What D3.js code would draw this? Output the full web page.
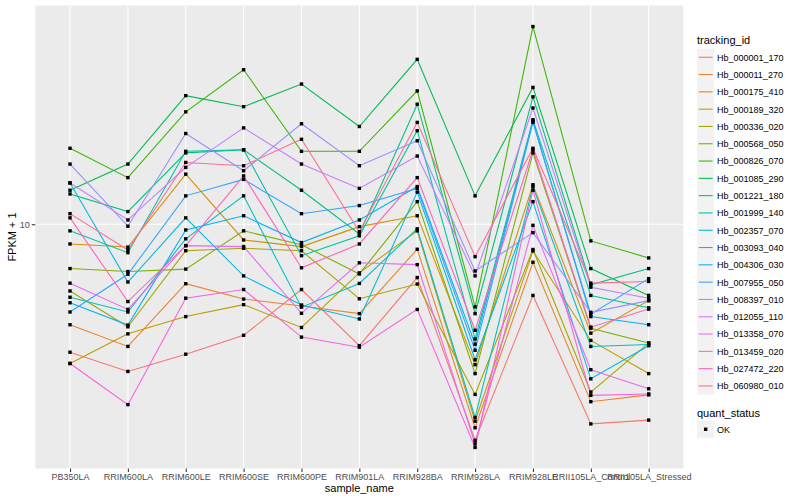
<!DOCTYPE html>
<html>
<head>
<meta charset="utf-8">
<script src="https://cdn.jsdelivr.net/npm/d3@7"></script>
<style>
  body { margin: 0; background: #fff; }
  svg { display: block; font-family: "Liberation Sans", Arial, sans-serif; }
</style>
</head>
<body>
<div id="chart"></div>
<script>
// categorias do eixo x
const samples = ['PB350LA', 'RRIM600LA', 'RRIM600LE', 'RRIM600SE', 'RRIM600PE', 'RRIM901LA',
  'RRIM928BA', 'RRIM928LA', 'RRIM928LE', 'RRII105LA_Control', 'RRII105LA_Stressed'];

const trackingIds = ['Hb_000001_170', 'Hb_000011_270', 'Hb_000175_410', 'Hb_000189_320', 'Hb_000336_020',
  'Hb_000568_050', 'Hb_000826_070', 'Hb_001085_290', 'Hb_001221_180', 'Hb_001999_140', 'Hb_002357_070',
  'Hb_003093_040', 'Hb_004306_030', 'Hb_007955_050', 'Hb_008397_010', 'Hb_012055_110', 'Hb_013358_070',
  'Hb_013459_020', 'Hb_027472_220', 'Hb_060980_010'];

// FPKM + 1, uma serie por tracking_id (ordem = samples)
const hb_000001_170 = [5.54, 5.07, 5.49, 5.99, 7.40, 5.71, 7.82, 3.69, 7.20, 3.98, 4.05];
const hb_000011_270 = [6.29, 5.69, 7.60, 7.08, 6.86, 6.62, 8.91, 3.91, 8.39, 4.41, 4.55];
const hb_000175_410 = [9.13, 9.00, 12.6, 9.30, 9.02, 9.89, 10.4, 5.23, 12.0, 6.05, 7.03];
const hb_000189_320 = [5.26, 6.03, 6.53, 6.90, 6.21, 7.99, 9.70, 4.03, 8.84, 5.85, 5.02];
const hb_000336_020 = [7.35, 6.23, 8.85, 8.95, 8.85, 7.09, 7.59, 4.56, 8.90, 4.61, 5.78];
const hb_000568_050 = [8.15, 8.04, 8.13, 9.70, 9.10, 7.95, 11.1, 5.02, 13.9, 6.19, 5.78];
const hb_000826_070 = [14.2, 12.4, 16.8, 20.4, 14.0, 14.0, 18.5, 6.83, 24.9, 9.26, 8.56];
const hb_001085_290 = [11.7, 13.2, 18.1, 17.2, 19.1, 15.7, 21.4, 11.4, 18.8, 8.15, 7.20];
const hb_001221_180 = [11.5, 10.6, 13.9, 14.1, 11.7, 9.56, 17.4, 6.62, 18.0, 7.56, 8.15];
const hb_001999_140 = [9.70, 8.77, 14.0, 14.1, 8.65, 9.48, 15.4, 5.89, 16.2, 7.20, 6.80];
const hb_002357_070 = [7.14, 6.67, 9.35, 11.4, 6.82, 7.61, 9.79, 4.10, 11.9, 5.69, 5.74];
const hb_003093_040 = [12.1, 7.66, 10.3, 7.88, 6.89, 6.46, 11.6, 5.35, 11.1, 4.90, 5.71];
const hb_004306_030 = [6.96, 6.28, 9.74, 10.4, 9.19, 10.2, 11.9, 5.75, 16.1, 6.53, 6.29];
const hb_007955_050 = [6.67, 7.94, 11.4, 12.3, 10.5, 10.9, 11.8, 5.59, 16.0, 6.60, 7.78];
const hb_008397_010 = [13.2, 9.91, 15.2, 12.8, 15.9, 13.1, 14.7, 8.06, 9.62, 6.66, 7.03];
const hb_012055_110 = [12.1, 10.2, 13.0, 15.6, 13.2, 11.8, 13.7, 7.88, 17.1, 7.48, 7.11];
const hb_013358_070 = [7.62, 6.75, 9.06, 9.02, 6.63, 8.37, 8.30, 3.63, 9.95, 5.11, 4.68];
const hb_013459_020 = [5.26, 4.35, 7.11, 7.40, 5.94, 5.67, 6.75, 3.57, 11.7, 4.54, 4.57];
const hb_027472_220 = [10.3, 7.00, 9.06, 12.5, 8.18, 9.13, 12.4, 6.13, 14.1, 6.22, 6.76];
const hb_060980_010 = [10.5, 8.88, 13.3, 13.1, 14.8, 9.66, 16.0, 8.61, 14.2, 7.62, 7.68];

const seriesValues = [hb_000001_170, hb_000011_270, hb_000175_410, hb_000189_320, hb_000336_020,
  hb_000568_050, hb_000826_070, hb_001085_290, hb_001221_180, hb_001999_140, hb_002357_070,
  hb_003093_040, hb_004306_030, hb_007955_050, hb_008397_010, hb_012055_110, hb_013358_070,
  hb_013459_020, hb_027472_220, hb_060980_010];

// paleta hue do ggplot (20 niveis)
const HUES = ['#F8766D', '#EA8331', '#D89000', '#C09B00', '#A3A500', '#7CAE00', '#39B600', '#00BB4E',
  '#00BF7D', '#00C1A3', '#00BFC4', '#00BAE0', '#00B0F6', '#35A2FF', '#9590FF', '#C77CFF', '#E76BF3',
  '#FA62DB', '#FF62BC', '#FF6C91'];

const W = 800, H = 500;
const panel = { left: 35.3, right: 683.4, top: 5.5, bottom: 468.5 };

const svg = d3.select('#chart').append('svg').attr('width', W).attr('height', H);

const x = d3.scalePoint().domain(samples).range([panel.left, panel.right]).padding(0.6);

// log10 com expansao de 5% como no ggplot
const all = seriesValues.flat();
const lmin = Math.log10(d3.min(all)), lmax = Math.log10(d3.max(all));
const pad = (lmax - lmin) * 0.05;
const y = d3.scaleLog().domain([10 ** (lmin - pad), 10 ** (lmax + pad)]).range([panel.bottom, panel.top]);
const yTicks = [1, 10, 100].filter((t) => t >= y.domain()[0] && t <= y.domain()[1]);

// fundo do painel + grade
svg.append('rect')
  .attr('x', panel.left).attr('y', panel.top)
  .attr('width', panel.right - panel.left).attr('height', panel.bottom - panel.top)
  .attr('fill', '#EBEBEB');
const grid = svg.append('g').attr('stroke', '#fff').attr('stroke-width', 1.07);
grid.selectAll('line.gx').data(samples).enter().append('line')
  .attr('x1', (d) => x(d)).attr('x2', (d) => x(d))
  .attr('y1', panel.top).attr('y2', panel.bottom);
grid.selectAll('line.gy').data(yTicks).enter().append('line')
  .attr('x1', panel.left).attr('x2', panel.right)
  .attr('y1', (d) => y(d)).attr('y2', (d) => y(d));

// linhas
const line = d3.line().x((d, i) => x(samples[i])).y((d) => y(d));
svg.append('g').selectAll('path').data(seriesValues).enter().append('path')
  .attr('d', line)
  .attr('fill', 'none')
  .attr('stroke', (d, i) => HUES[i])
  .attr('stroke-width', 1.07);

// pontos (quant_status = OK)
const pts = svg.append('g');
seriesValues.forEach((vals) => {
  pts.selectAll(null).data(vals).enter().append('rect')
    .attr('x', (d, i) => x(samples[i]) - 1.7).attr('y', (d) => y(d) - 1.7)
    .attr('width', 3.4).attr('height', 3.4).attr('fill', '#000');
});

// eixos
const axX = svg.append('g').attr('transform', `translate(0,${panel.bottom})`)
  .call(d3.axisBottom(x).tickSize(3.5).tickPadding(2));
const axY = svg.append('g').attr('transform', `translate(${panel.left},0)`)
  .call(d3.axisLeft(y).tickValues(yTicks).tickFormat(d3.format('d')).tickSize(3.5).tickPadding(2));
[axX, axY].forEach((a) => {
  a.select('.domain').remove();
  a.selectAll('.tick line').attr('stroke', '#333').attr('stroke-width', 1.07);
  a.selectAll('.tick text').attr('fill', '#4D4D4D').attr('font-size', 9)
    .attr('font-family', '"Liberation Sans", Arial, sans-serif');
});

svg.append('text').attr('x', (panel.left + panel.right) / 2).attr('y', 492)
  .attr('text-anchor', 'middle').attr('font-size', 11).text('sample_name');
svg.append('text').attr('transform', `translate(16,${(panel.top + panel.bottom) / 2}) rotate(-90)`)
  .attr('text-anchor', 'middle').attr('font-size', 11).text('FPKM + 1');

// legenda
const lg = svg.append('g').attr('transform', 'translate(697,0)');
lg.append('text').attr('x', 0).attr('y', 44).attr('font-size', 11).text('tracking_id');
const keyH = 17.3;
const item = lg.selectAll('g.item').data(trackingIds).enter().append('g')
  .attr('transform', (d, i) => `translate(0,${48.6 + i * keyH})`);
item.append('rect').attr('width', 17.3).attr('height', 17.3).attr('fill', '#F2F2F2');
item.append('line').attr('x1', 1.7).attr('x2', 15.6).attr('y1', 8.65).attr('y2', 8.65)
  .attr('stroke', (d, i) => HUES[i]).attr('stroke-width', 1.07);
item.append('text').attr('x', 20).attr('y', 12).attr('font-size', 9).text((d) => d);

lg.append('text').attr('x', 0).attr('y', 417).attr('font-size', 11).text('quant_status');
const ok = lg.append('g').attr('transform', 'translate(0,420.6)');
ok.append('rect').attr('width', 17.3).attr('height', 17.3).attr('fill', '#F2F2F2');
ok.append('rect').attr('x', 6.95).attr('y', 6.95).attr('width', 3.4).attr('height', 3.4).attr('fill', '#000');
ok.append('text').attr('x', 20).attr('y', 12).attr('font-size', 9).text('OK');
</script>
</body>
</html>
